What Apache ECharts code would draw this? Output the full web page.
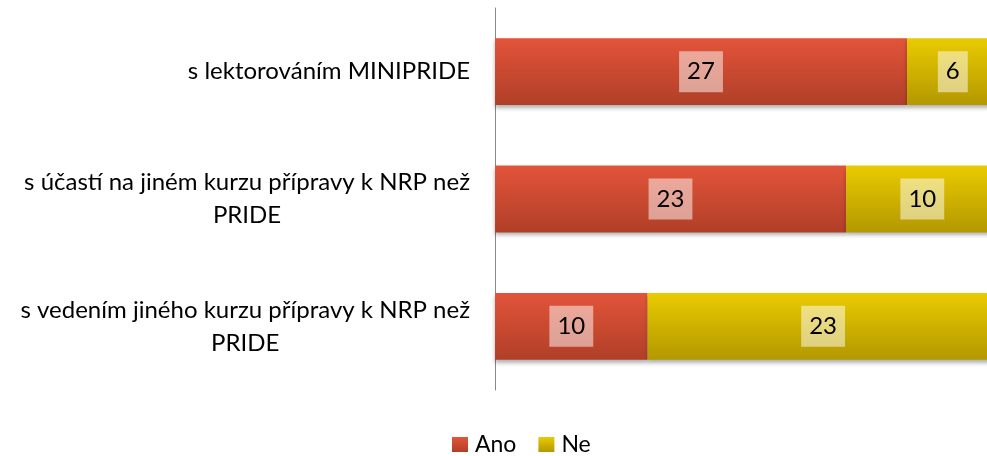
<!DOCTYPE html>
<html>
<head>
<meta charset="utf-8">
<script src="https://cdn.jsdelivr.net/npm/echarts@6/dist/echarts.min.js"></script>
<style>
    html, body { margin: 0; padding: 0; background: #fff; }
    #main { width: 987px; height: 456px; }
</style>
</head>
<body>
<div id="main"></div>
<script>
var categories = [
    's lektorováním MINIPRIDE',
    's účastí na jiném kurzu přípravy k NRP než\nPRIDE',
    's vedením jiného kurzu přípravy k NRP než\nPRIDE'
];
var seriesNames = ['Ano', 'Ne'];
var anoValues = [27, 23, 10];
var neValues = [6, 10, 23];

var FONT = 'Lato';
// the plot runs past the right edge of the picture: 33 sits ~12px beyond it
var axisMax = 32.24;

function grad(top, bottom) {
    return new echarts.graphic.LinearGradient(0, 0, 0, 1, [
        { offset: 0, color: top },
        { offset: 1, color: bottom }
    ]);
}

var labelStyle = {
    show: true,
    position: 'inside',
    color: '#000',
    fontFamily: FONT,
    fontSize: 24,
    lineHeight: 24,
    backgroundColor: 'rgba(255,255,255,0.5)',
    padding: [9, 8, 8, 8]
};

var chart = echarts.init(document.getElementById('main'));
var option = {
    animation: false,
    grid: {
        left: 495,
        right: 0,
        top: 8,
        bottom: 66
    },
    legend: {
        data: seriesNames,
        top: 428,
        left: 447,
        icon: 'rect',
        itemWidth: 16,
        itemHeight: 15,
        itemGap: 22,
        textStyle: { fontFamily: FONT, fontSize: 23, color: '#000', padding: [0, 0, 0, 2] }
    },
    xAxis: {
        type: 'value',
        min: 0,
        max: axisMax,
        show: false
    },
    yAxis: {
        type: 'category',
        data: categories,
        inverse: true,
        axisLine: { show: true, lineStyle: { color: '#888', width: 1 } },
        axisTick: { show: false },
        axisLabel: {
            margin: 25,
            formatter: function (v) {
                return v.split('\n').map(function (line) {
                    return '{c|' + line + '}';
                }).join('\n');
            },
            rich: {
                c: {
                    align: 'center',
                    fontFamily: FONT,
                    fontSize: 24,
                    color: '#000',
                    lineHeight: 33
                }
            }
        }
    },
    series: [
        {
            name: seriesNames[0],
            type: 'bar',
            stack: 'total',
            barWidth: '52.5%',
            clip: false,
            data: anoValues,
            itemStyle: {
                color: grad('#e2543a', '#b03f27'),
                shadowColor: 'rgba(0,0,0,0.3)',
                shadowBlur: 4,
                shadowOffsetY: 3
            },
            label: labelStyle
        },
        {
            name: seriesNames[1],
            type: 'bar',
            stack: 'total',
            clip: false,
            data: neValues,
            itemStyle: {
                color: grad('#e9cb00', '#b39800'),
                shadowColor: 'rgba(0,0,0,0.3)',
                shadowBlur: 4,
                shadowOffsetY: 3
            },
            label: labelStyle
        }
    ]
};
chart.setOption(option);
</script>
</body>
</html>
